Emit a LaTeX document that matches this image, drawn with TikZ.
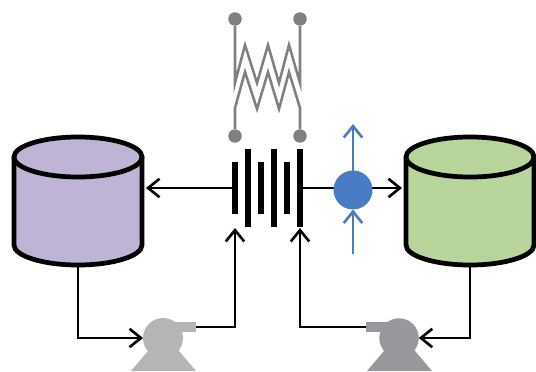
\documentclass[tikz,border=0pt]{standalone}
\usepackage{tikz}
\usetikzlibrary{arrows.meta}
\definecolor{tankL}{HTML}{BFB3D6}
\definecolor{tankR}{HTML}{B8D59C}
\definecolor{pumpL}{HTML}{B4B5B7}
\definecolor{pumpR}{HTML}{97989C}
\definecolor{wire}{HTML}{808084}
\definecolor{ion}{HTML}{4A7CC4}
\tikzset{
	tankline/.style={draw=black,line width=2.7pt,line join=round},
	tank/.style={shape=rectangle,minimum width=2.64cm,minimum height=2.64cm,inner sep=0pt,outer sep=0pt},
	pipe/.style={draw=black,line width=1.5pt},
	tip/.style={-{Straight Barb[length=6.5pt,width=10.5pt,line width=1.5pt]}},
	term/.style={shape=circle,fill=wire,minimum size=0.27cm,inner sep=0pt},
	plate/.style={shape=rectangle,fill=black,minimum width=0.11cm,inner sep=0pt,outer sep=0pt},
	ionpath/.style={draw=ion,line width=1.5pt},
	coil/.style={draw=wire,line width=1.45pt,line join=miter},
}
\newcommand{\tankbody}[2]{
	\draw [tankline,fill=#2,shift={(#1)}] (-64,-44) -- (-64,44) .. controls (-64,55) and (-35,64) .. (0,64) .. controls (35,64) and (64,55) .. (64,44) -- (64,-44) -- cycle;
	\draw [tankline,fill=#2,shift={(#1)}] (0,-44) ellipse [x radius=64,y radius=20];
}
\begin{document}
\begin{tikzpicture}[x=0.02cm,y=-0.02cm]
	\useasboundingbox (0, 0) rectangle (536, 371);
	% tanks
	\node [tank] (tl) at (78, 201) {};
	\node [tank] (tr) at (470, 201) {};
	\tankbody{78,201}{tankL}
	\tankbody{470,201}{tankR}
	% stack
	\node [plate,minimum height=1.04cm] (p1) at (235, 188) {};
	\node [plate,minimum height=1.56cm] (p2) at (248, 188) {};
	\node [plate,minimum height=1.04cm] (p3) at (261, 188) {};
	\node [plate,minimum height=1.56cm] (p4) at (274, 188) {};
	\node [plate,minimum height=1.04cm] (p5) at (287, 188) {};
	\node [plate,minimum height=1.56cm] (p6) at (300, 188) {};
	% terminals
	\node [term] (a) at (235, 19) {};
	\node [term] (b) at (300, 19) {};
	\node [term] (c) at (235, 136) {};
	\node [term] (d) at (300, 136) {};
	\draw [coil] (a) -- (235, 83) -- (245, 45) -- (257, 83) -- (268, 45) -- (279, 83) -- (289, 45) -- (300, 83) -- (b);
	\draw [coil] (c) -- (235, 108) -- (245, 72) -- (257, 109) -- (268, 72) -- (279, 109) -- (289, 72) -- (300, 108) -- (d);
	% pumps
	\fill [pumpL] (131, 371) -- (153, 345) -- (174, 345) -- (196, 371) -- cycle;
	\fill [pumpL] (163, 322) -- (196, 322) -- (196, 332) -- (163, 332) -- cycle;
	\node [shape=circle,fill=pumpL,minimum size=0.8cm,inner sep=0pt,outer sep=0pt] (pl) at (163, 338) {};
	\coordinate (plo) at (196, 327);
	\fill [pumpR] (367, 371) -- (389, 345) -- (410, 345) -- (432, 371) -- cycle;
	\fill [pumpR] (366, 322) -- (399, 322) -- (399, 332) -- (366, 332) -- cycle;
	\node [shape=circle,fill=pumpR,minimum size=0.79cm,inner sep=0pt,outer sep=0pt] (pr) at (399, 338) {};
	\coordinate (pro) at (366, 327);
	% pipes
	\coordinate (jl) at (235, 228);
	\coordinate (jr) at (300, 228);
	\draw [pipe,tip] (p1) to ([xshift=0.04cm]tl.east |- p1);
	\draw [pipe,tip] (p6) to ([xshift=-0.04cm]tr.west |- p6);
	\draw [pipe,tip] (tl.south) |- (pl);
	\draw [pipe,tip] (tr.south) |- (pr);
	\draw [pipe,tip] (plo) -| (jl);
	\draw [pipe,tip] (pro) -| (jr);
	% ion
	\node [shape=circle,fill=ion,minimum size=0.78cm,inner sep=0pt,outer sep=0pt] (ion) at (353, 190) {};
	\coordinate (iu) at (353, 124);
	\coordinate (id) at (353, 254);
	\draw [ionpath,tip] (ion) to (iu);
	\draw [ionpath,tip] (id) to (ion);
\end{tikzpicture}
\end{document}
